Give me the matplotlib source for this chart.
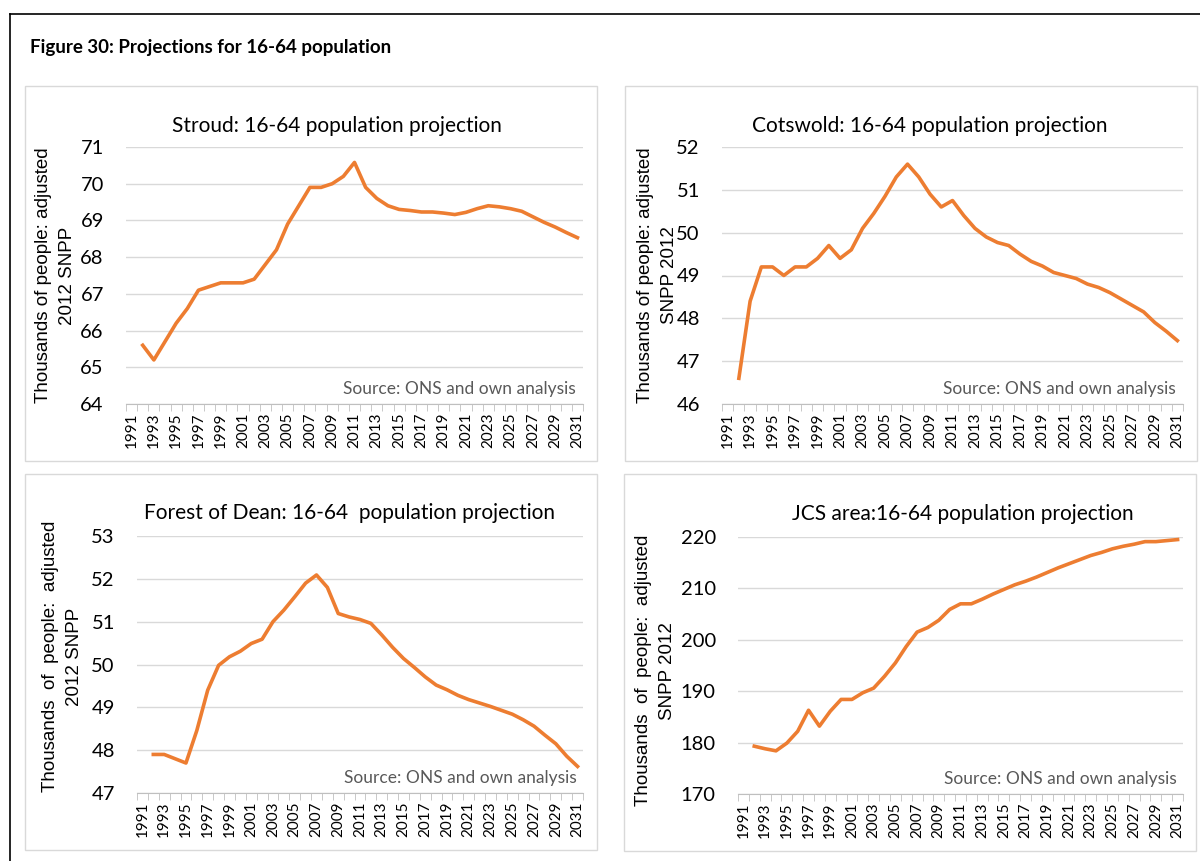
import numpy as np
import matplotlib.pyplot as plt
from matplotlib.patches import Rectangle
from matplotlib.lines import Line2D

# Años de la serie (la primera categoría 1991 no tiene dato)
years = np.arange(1992, 2032)
tick_years = np.arange(1991, 2032, 2)

stroud = [65.6, 65.2, 65.7, 66.2, 66.6, 67.1, 67.2, 67.3, 67.3, 67.3,
          67.4, 67.8, 68.2, 68.9, 69.4, 69.9, 69.9, 70.0, 70.2, 70.58,
          69.9, 69.6, 69.4, 69.3, 69.27, 69.23, 69.23, 69.2, 69.16, 69.22,
          69.32, 69.4, 69.37, 69.32, 69.25, 69.1, 68.95, 68.82, 68.67, 68.53]

cotswold = [46.6, 48.4, 49.2, 49.2, 49.0, 49.2, 49.2, 49.4, 49.7, 49.4,
            49.6, 50.1, 50.45, 50.85, 51.3, 51.6, 51.3, 50.9, 50.6, 50.75,
            50.4, 50.1, 49.9, 49.77, 49.7, 49.5, 49.33, 49.22, 49.07, 49.0,
            48.93, 48.8, 48.72, 48.6, 48.45, 48.3, 48.15, 47.9, 47.7, 47.48]

forest = [47.9, 47.9, 47.8, 47.7, 48.46, 49.4, 49.98, 50.18, 50.31, 50.49,
          50.59, 51.0, 51.27, 51.58, 51.9, 52.09, 51.8, 51.19, 51.11, 51.05,
          50.96, 50.69, 50.4, 50.14, 49.93, 49.71, 49.52, 49.41, 49.28, 49.18,
          49.1, 49.02, 48.93, 48.84, 48.71, 48.56, 48.35, 48.15, 47.86, 47.62]

jcs = [179.3, 178.8, 178.4, 179.9, 182.2, 186.3, 183.2, 186.1, 188.4, 188.4,
       189.7, 190.6, 192.9, 195.5, 198.7, 201.5, 202.4, 203.8, 205.9, 207.0,
       207.0, 207.9, 208.9, 209.8, 210.7, 211.4, 212.2, 213.1, 214.0, 214.8,
       215.6, 216.4, 217.0, 217.7, 218.2, 218.6, 219.1, 219.1, 219.3, 219.5]

titles = ['Stroud: 16-64 population projection',
          'Cotswold: 16-64 population projection',
          'Forest of Dean: 16-64  population projection',
          'JCS area:16-64 population projection']
ylabels = ['Thousands of people: adjusted\n2012 SNPP',
           'Thousands of people: adjusted\nSNPP 2012',
           'Thousands  of  people:  adjusted\n2012 SNPP',
           'Thousands  of  people:  adjusted\nSNPP 2012']
series = [stroud, cotswold, forest, jcs]
ylims = [(64, 71), (46, 52), (47, 53), (170, 220)]
ysteps = [1, 1, 1, 10]

W, H = 1200, 861
fig = plt.figure(figsize=(12, 8.61), dpi=100)

def px_rect(l, t, r, b):
    return [l / W, 1 - b / H, (r - l) / W, (b - t) / H]

# marco exterior negro
fig.add_artist(Line2D([10 / W, 1], [1 - 14 / H, 1 - 14 / H], color='black', lw=1.2))
fig.add_artist(Line2D([10 / W, 10 / W], [0, 1 - 14 / H], color='black', lw=1.2))

fig.text(30 / W, 1 - 47 / H, 'Figure 30: Projections for 16-64 population',
         fontsize=13.5, fontweight='bold', family='Lato', va='center', ha='left')

panels = [(25, 86, 597, 461), (625, 86, 1197, 461),
          (25, 474, 597, 850), (624, 474, 1196, 851)]
plot_boxes = [(126, 147, 583, 404), (722, 147, 1183, 404),
              (137, 536, 583, 793), (738, 537, 1183, 794)]
title_pos = [(337, 126), (930, 126), (349, 513), (963, 514)]
# borde derecho de la etiqueta del eje y, en píxeles
ylabel_x = [76, 678, 83, 676]
ylabel_y = [0.5, 0.5, 0.53, 0.48]

for i in range(4):
    l, t, r, b = panels[i]
    fig.add_artist(Rectangle((l / W, 1 - b / H), (r - l) / W, (b - t) / H,
                             transform=fig.transFigure, fill=False,
                             edgecolor='#d9d9d9', lw=1))
    ax = fig.add_axes(px_rect(*plot_boxes[i]))
    ax.plot(years, series[i], color='#ED7D31', lw=2.6, solid_joinstyle='round')
    lo, hi = ylims[i]
    ax.set_ylim(lo, hi)
    ax.set_xlim(1990.5, 2031.5)
    ax.set_yticks(np.arange(lo, hi + ysteps[i] / 2, ysteps[i]))
    ax.grid(axis='y', color='#d9d9d9', lw=1)
    ax.set_axisbelow(True)
    for s in ['top', 'right', 'left']:
        ax.spines[s].set_visible(False)
    ax.spines['bottom'].set_color('#bfbfbf')
    ax.set_xticks(tick_years)
    ax.set_xticklabels([str(y) for y in tick_years], rotation=90,
                       fontsize=11, family='Lato')
    ax.set_xticks(np.arange(1990.5, 2032, 1), minor=True)
    ax.tick_params(axis='x', which='major', length=0, pad=6)
    ax.tick_params(axis='x', which='minor', length=5, color='#bfbfbf')
    ax.tick_params(axis='y', length=0, pad=16)
    for lab in ax.get_yticklabels():
        lab.set_fontsize(14.5)
        lab.set_family('Lato')
    ax.set_ylabel(ylabels[i], fontsize=13.5, family='Liberation Sans',
                  linespacing=1.55)
    x0 = plot_boxes[i][0]
    x1 = plot_boxes[i][2]
    ax.yaxis.set_label_coords((ylabel_x[i] - x0) / (x1 - x0), ylabel_y[i])
    tx, ty = title_pos[i]
    fig.text(tx / W, 1 - ty / H, titles[i], fontsize=15, family='Lato',
             ha='center', va='center')
    ax.text(0.985, 0.06, 'Source: ONS and own analysis', transform=ax.transAxes,
            fontsize=12.5, family='Lato', color='#595959', ha='right', va='center')

fig.savefig('out.png', dpi=100)
